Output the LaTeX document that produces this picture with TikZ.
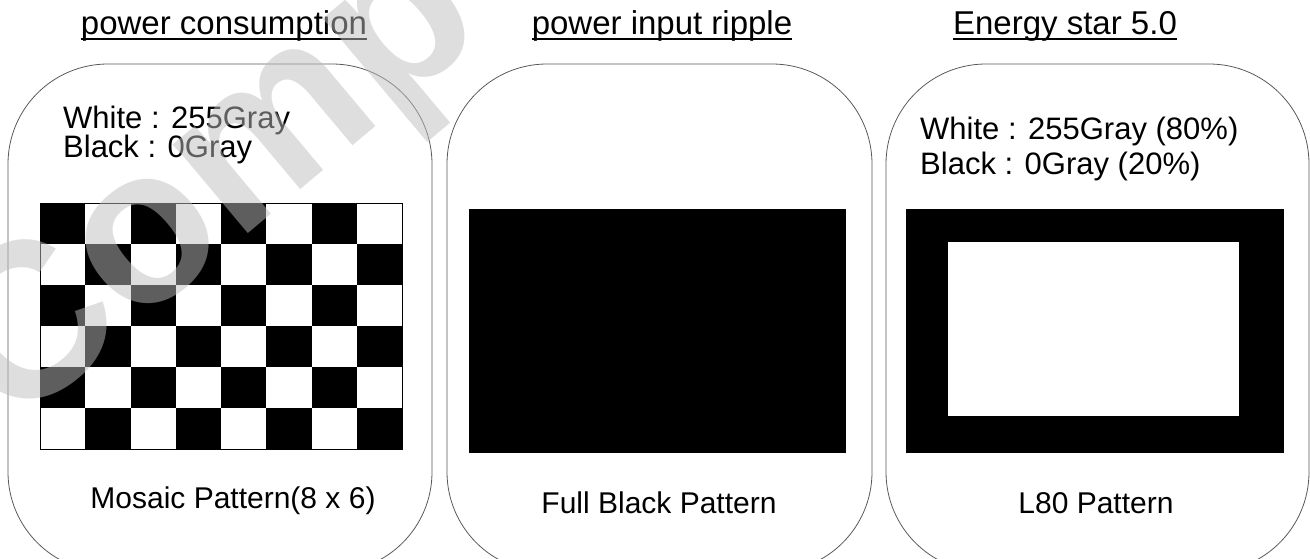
\documentclass[tikz,border=0pt]{standalone}
\usepackage{fontspec}
\setmainfont{Liberation Sans}
\usepackage{tikz}
\definecolor{wmgray}{gray}{0.74}
\tikzstyle{panel}=[draw=black!65, line width=0.8pt, rounded corners=100pt]
\tikzstyle{ttl}=[inner sep=0, anchor=base, font=\fontsize{33}{38}\selectfont]
\tikzstyle{txt}=[inner sep=0, font=\fontsize{31}{36}\selectfont]
\tikzstyle{lbl}=[inner sep=0, anchor=base, font=\fontsize{30}{35}\selectfont]
\tikzstyle{uline}=[line width=1.5pt]
\tikzstyle{wmark}=[inner sep=0, text=wmgray, text opacity=.5, font=\fontsize{220}{220}\bfseries\selectfont]

\begin{document}
\begin{tikzpicture}[x=1pt, y=-1pt]
\useasboundingbox (0,0) rectangle (1310,559);
% frames
\draw[panel] (8,64) rectangle (432,572);
\draw[panel] (447,64) rectangle (872,572);
\draw[panel] (886,64) rectangle (1309,572);
% titles
\node at (224,35)[ttl](t1){power consumption};
\node at (662,35)[ttl](t2){power input ripple};
\node at (1065,35)[ttl](t3){Energy star 5.0};
\draw[uline] ([yshift=-4pt]t1.base west)--([yshift=-4pt]t1.base east);
\draw[uline] ([yshift=-4pt]t2.base west)--([yshift=-4pt]t2.base east);
\draw[uline] ([yshift=-4pt]t3.base west)--([yshift=-4pt]t3.base east);
% gray levels
\node at (63,129)[txt, anchor=base west](w1){White : 255Gray};
\node at (63,158)[txt, anchor=base west](b1){Black : 0Gray};
\node at (920,140)[txt, anchor=base west](w3){White : 255Gray (80\%)};
\node at (920,175)[txt, anchor=base west](b3){Black : 0Gray (20\%)};
% mosaic 8 x 6
\foreach \i in {0,...,7}
  \foreach \j in {0,...,5}{
    \pgfmathtruncatemacro\k{mod(\i+\j,2)}
    \ifnum\k=0 \fill (40+45.25*\i,203+41*\j) rectangle ++(45.25,41); \fi
  }
\draw[line width=0.8pt] (40,203) rectangle (402,449);
% full black
\fill (469,209) rectangle (846,453);
% L80
\fill (906,209) rectangle (1284,453);
\fill[white] (948,242) rectangle (1239,416);
% pattern names
\node at (233,508)[lbl](l1){Mosaic Pattern(8 x 6)};
\node at (659,513)[lbl](l2){Full Black Pattern};
\node at (1096,513)[lbl](l3){L80 Pattern};
% watermark
\node at (12,432)[wmark, rotate=40, anchor=base west](wm){Comp};
\end{tikzpicture}
\end{document}
